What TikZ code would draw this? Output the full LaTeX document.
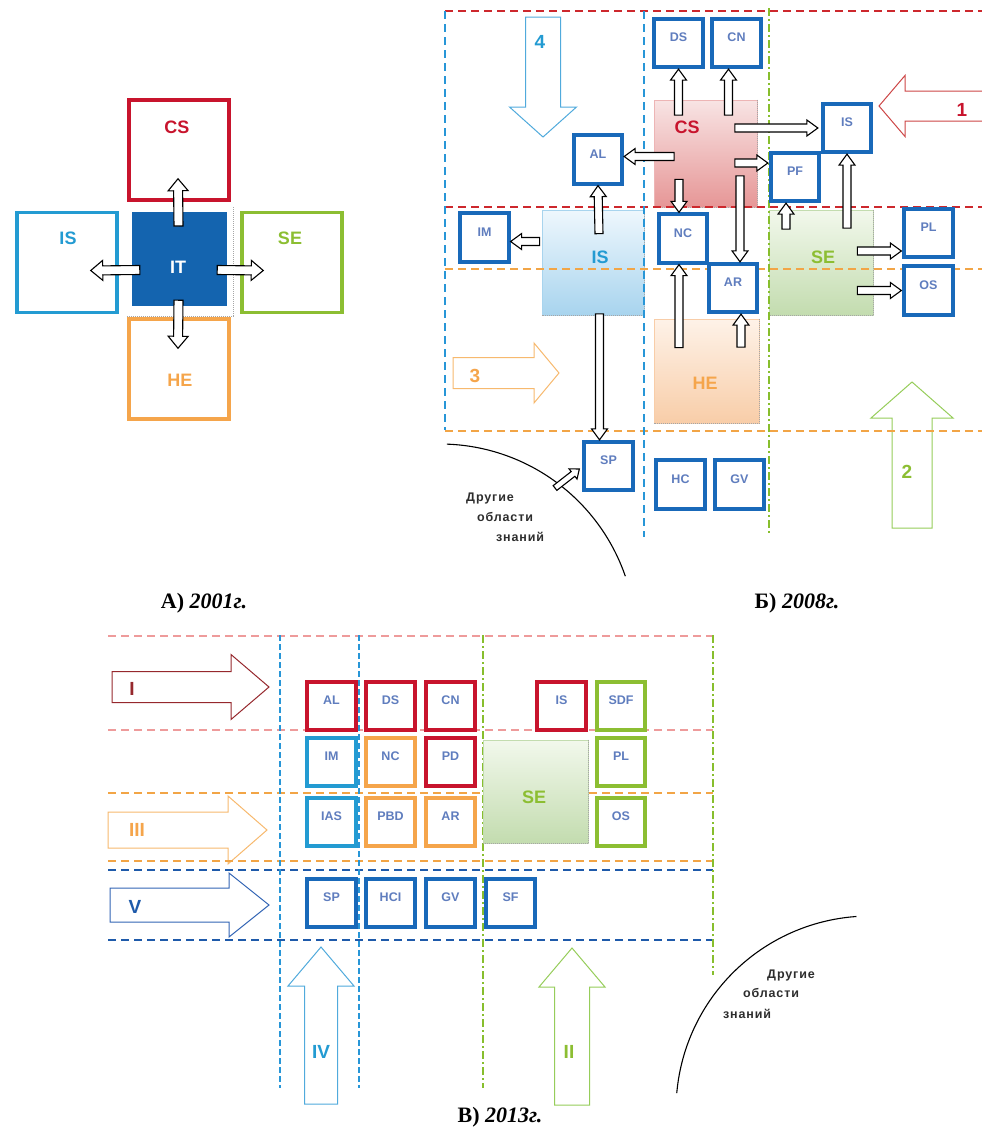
\documentclass[tikz,border=0pt]{standalone}
\usepackage{fontspec}
\setmainfont{Liberation Sans}
\newfontfamily\capfont{Liberation Serif}
\newfontfamily\othfont[LetterSpace=7]{Liberation Sans}
\usetikzlibrary{calc}

\definecolor{csred}{RGB}{200,20,45}
\definecolor{iscyan}{RGB}{35,155,210}
\definecolor{segreen}{RGB}{140,190,50}
\definecolor{heorange}{RGB}{245,165,75}
\definecolor{itblue}{RGB}{20,100,175}
\definecolor{boxblue}{RGB}{25,105,185}
\definecolor{labblue}{RGB}{95,125,190}
\definecolor{dashred}{RGB}{205,40,45}
\definecolor{dashpink}{RGB}{238,155,155}
\definecolor{dashorange}{RGB}{242,165,70}
\definecolor{dashcyan}{RGB}{40,150,215}
\definecolor{dashgreen}{RGB}{135,190,45}
\definecolor{dashblue}{RGB}{30,90,170}
\definecolor{arrred}{RGB}{205,70,70}
\definecolor{arrdark}{RGB}{150,40,45}
\definecolor{arrcyan}{RGB}{80,170,220}
\definecolor{arrgreen}{RGB}{150,205,90}
\definecolor{arrorange}{RGB}{247,185,110}
\definecolor{arrblue}{RGB}{50,100,180}
\definecolor{txtgray}{RGB}{45,45,45}
\definecolor{csTop}{RGB}{248,228,228}\definecolor{csBot}{RGB}{230,150,150}
\definecolor{isTop}{RGB}{238,247,253}\definecolor{isBot}{RGB}{168,212,238}
\definecolor{seTop}{RGB}{242,248,236}\definecolor{seBot}{RGB}{195,220,175}
\definecolor{heTop}{RGB}{254,242,232}\definecolor{heBot}{RGB}{248,205,168}

% block arrow: [style]{from}{to}{half shaft}{half head}{head length}
\newcommand{\blockarr}[6][]{%
  \path[#1] let \p1=(#2), \p2=(#3),
      \n1={atan2(\y2-\y1,\x2-\x1)}, \n2={veclen(\x2-\x1,\y2-\y1)} in
    [shift={(\p1)}, rotate=\n1]
    (0pt,-#4) -- ({\n2-#6},-#4) -- ({\n2-#6},-#5) -- ({\n2+0pt},0pt)
    -- ({\n2-#6},#5) -- ({\n2-#6},#4) -- (0pt,#4) -- cycle;}

\tikzset{
  cell/.style={draw=boxblue, line width=3.8pt, fill=white, minimum size=48.5pt,
    inner sep=0pt, text=labblue, font=\bfseries\fontsize{12.5}{12.5}\selectfont,
    text height=8.9pt, text depth=11pt},
  bigbox/.style={line width=3.5pt, minimum width=100pt, minimum height=100pt, inner sep=0pt},
  zone/.style={inner sep=0pt, line width=0.6pt},
  zdot/.style={densely dotted, line width=1pt, gray!70},
  zlab/.style={font=\bfseries\fontsize{18}{18}\selectfont, inner sep=0pt},
  dline/.style={line width=1.8pt, dash pattern=on 8pt off 5pt},
  smallarr/.style={draw=black, fill=white, line width=1.1pt},
  bigarr/.style={draw=#1, fill=white, line width=1pt},
  numlab/.style={font=\bfseries\fontsize{19}{19}\selectfont, inner sep=0pt},
  othertxt/.style={font=\othfont\bfseries\fontsize{12.5}{12.5}\selectfont, text=txtgray, inner sep=0pt},
  capt/.style={font=\capfont\bfseries\fontsize{22}{22}\selectfont, inner sep=0pt},
}

\begin{document}
\begin{tikzpicture}[x=1pt,y=-1pt]
\useasboundingbox (0,0) rectangle (982,1135);

% ===== А) 2001
\node[bigbox, draw=csred] (aCS) at (179,150) {};
\node[bigbox, draw=iscyan] (aIS) at (67,262.5) {};
\node[bigbox, draw=segreen] (aSE) at (292,262.5) {};
\node[bigbox, draw=heorange] (aHE) at (179,369) {};
\node[fill=itblue, minimum width=95pt, minimum height=94pt, inner sep=0pt] (aIT) at (179.5,259) {};
\draw[zdot] (233,207) -- (233,316) -- (127,316);
\node[zlab, text=csred] (aCSt) at (177,127) {CS};
\node[zlab, text=iscyan] (aISt) at (68,238) {IS};
\node[zlab, text=segreen] (aSEt) at (290,238) {SE};
\node[zlab, text=heorange] (aHEt) at (180,380) {HE};
\node[zlab, text=white] (aITt) at (178,267) {IT};
% стрелки
\blockarr[smallarr]{$(aIT.center)+(-1,-33)$}{$(aCS.south)+(-1,-23)$}{4.5pt}{10pt}{12pt}
\blockarr[smallarr]{$(aIT.west)+(8,11)$}{$(aIS.east)+(-28,8)$}{4.5pt}{10pt}{12pt}
\blockarr[smallarr]{$(aIT.east)+(-10,11)$}{$(aSE.west)+(23,8)$}{4.5pt}{10pt}{12pt}
\blockarr[smallarr]{$(aIT.south)+(-1,-6)$}{$(aHE.north)+(-1,31)$}{4.5pt}{10pt}{12pt}

% ===== Б) 2008
% большие стрелки
\blockarr[bigarr=arrcyan]{543,17}{543,137}{17.5pt}{33.5pt}{30pt}
\blockarr[bigarr=arrred]{995,106}{879,106}{15pt}{30.5pt}{26pt}
\blockarr[bigarr=arrorange]{453,373}{559,373}{15.5pt}{30pt}{25pt}
\blockarr[bigarr=arrgreen]{912,528}{912,382}{20pt}{41pt}{36pt}
\node[numlab, text=iscyan] (b4t) at (540,42) {4};
\node[numlab, text=csred] (b1t) at (962,110) {1};
\node[numlab, text=heorange] (b3t) at (475,376) {3};
\node[numlab, text=segreen] (b2t) at (907,472) {2};
% области
\node[zone, draw=csBot!70, top color=csTop, bottom color=csBot, minimum width=103pt, minimum height=107pt] (bCSz) at (705.5,153.5) {};
\node[zone, draw=isBot, top color=isTop, bottom color=isBot, minimum width=102pt, minimum height=105pt] (bISz) at (593,262.5) {};
\node[zone, draw=seBot, top color=seTop, bottom color=seBot, minimum width=104pt, minimum height=105pt] (bSEz) at (821,262.5) {};
\node[zone, draw=heBot, top color=heTop, bottom color=heBot, minimum width=105pt, minimum height=104pt] (bHEz) at (706.5,371) {};
\foreach \z in {bCSz,bISz,bSEz,bHEz}
  \draw[zdot] (\z.north east) -- (\z.south east) -- (\z.south west);
% пунктир
\draw[dline, dashred] (445,11) -- (982,11) (445,207) -- (982,207);
\draw[dline, dashorange] (445,269) -- (982,269) (445,431) -- (982,431);
\draw[dline, dashcyan] (445,11) -- (445,430) (644,11) -- (644,537);
\draw[dline, dashgreen, dash pattern=on 8pt off 3pt on 2pt off 3pt] (769,8) -- (769,533);
% дисциплины
\foreach \n/\x/\y in {DS/678.5/43, CN/736.5/43, AL/598/159.5, IS/847/128, PF/795/177,
    IM/484.5/237.5, NC/683/238.5, AR/733/288, PL/928.5/233, OS/928.5/290.5,
    SP/608.5/466, HC/680.5/484.5, GV/739.5/484.5}
  \node[cell] (b\n) at (\x,\y) {\n};
% связи
\blockarr[smallarr]{$(bDS.south)+(0,46)$}{bDS.south}{4pt}{8pt}{11pt}
\blockarr[smallarr]{$(bCN.south)+(-8,46)$}{$(bCN.south)+(-8,0)$}{4pt}{8pt}{11pt}
\blockarr[smallarr]{$(bAL.east)+(50,-3)$}{$(bAL.east)+(0,-3)$}{4pt}{8pt}{11pt}
\blockarr[smallarr]{$(bIS.west)+(-86,0)$}{$(bIS.west)+(-3,0)$}{4pt}{8pt}{11pt}
\blockarr[smallarr]{$(bPF.west)+(-34,-14)$}{$(bPF.west)+(-1,-14)$}{4pt}{8pt}{11pt}
\blockarr[smallarr]{$(bNC.north)+(-4,-33)$}{$(bNC.north)+(-4,0)$}{4pt}{8pt}{11pt}
\blockarr[smallarr]{$(bAR.north)+(7,-86)$}{$(bAR.north)+(7,0)$}{4pt}{8pt}{11pt}
\blockarr[smallarr]{$(bAL.south)+(1,48)$}{bAL.south}{4pt}{8pt}{11pt}
\blockarr[smallarr]{$(bIM.east)+(29,4)$}{$(bIM.east)+(0,4)$}{4pt}{8pt}{11pt}
\blockarr[smallarr]{$(bSP.north)+(-9,-126)$}{$(bSP.north)+(-9,0)$}{4pt}{8pt}{11pt}
\blockarr[smallarr]{$(bPF.south)+(-9,26)$}{$(bPF.south)+(-9,0)$}{4pt}{8pt}{11pt}
\blockarr[smallarr]{$(bIS.south)+(0,74)$}{bIS.south}{4pt}{8pt}{11pt}
\blockarr[smallarr]{$(bPL.west)+(-45,18)$}{$(bPL.west)+(-1,18)$}{4pt}{8pt}{11pt}
\blockarr[smallarr]{$(bOS.west)+(-45,0)$}{$(bOS.west)+(-1,0)$}{4pt}{8pt}{11pt}
\blockarr[smallarr]{$(bNC.south)+(-4,83)$}{$(bNC.south)+(-4,0)$}{4pt}{8pt}{11pt}
\blockarr[smallarr]{$(bAR.south)+(8,33)$}{$(bAR.south)+(8,0)$}{4pt}{8pt}{11pt}
\node[zlab, text=csred] (bCSt) at (687,127) {CS};
\node[zlab, text=iscyan] (bISt) at (600,257) {IS};
\node[zlab, text=segreen] (bSEt) at (823,257) {SE};
\node[zlab, text=heorange] (bHEt) at (705,383) {HE};
% другие области
\draw[line width=1.1pt] plot[smooth, domain=88:19, samples=40] ({440+196*cos(\x)},{640-196*sin(\x)});
\coordinate (bOth) at (555,488);
\blockarr[smallarr]{bOth}{$(bSP.west)+(-3,3)$}{3pt}{6.5pt}{8pt}
\node[othertxt] (bO1) at (490,498) {Другие};
\node[othertxt] (bO2) at (505,517) {области};
\node[othertxt] (bO3) at (520,537) {знаний};

% ===== В) 2013
\blockarr[bigarr=arrdark]{112,687}{269,687}{15.5pt}{32.5pt}{38pt}
\blockarr[bigarr=arrorange]{108,830}{267,830}{18pt}{34pt}{39pt}
\blockarr[bigarr=arrblue]{110,905}{269,905}{17pt}{32pt}{40pt}
\blockarr[bigarr=arrcyan]{321,1104}{321,947}{16.5pt}{33pt}{39pt}
\blockarr[bigarr=arrgreen]{572,1105}{572,948}{17.5pt}{33pt}{39pt}
\node[numlab, text=arrdark] (cIt) at (132,689) {I};
\node[numlab, text=heorange] (cIIIt) at (137,830) {III};
\node[numlab, text=dashblue] (cVt) at (135,907) {V};
\node[numlab, text=iscyan] (cIVt) at (321,1052) {IV};
\node[numlab, text=segreen] (cIIt) at (569,1052) {II};
% пунктир
\draw[dline, dashpink] (108,636) -- (713,636) (108,730) -- (713,730);
\draw[dline, dashorange] (108,793) -- (713,793) (108,861) -- (713,861);
\draw[dline, dashblue] (108,870) -- (713,870) (108,940) -- (713,940);
\draw[dline, dashcyan, dash pattern=on 6pt off 3pt] (280,635) -- (280,1088) (359,635) -- (359,1088);
\draw[dline, dashgreen, dash pattern=on 8pt off 3pt on 2pt off 3pt] (483,635) -- (483,1088) (713,635) -- (713,975);
\node[zone, draw=seBot, top color=seTop, bottom color=seBot, minimum width=105pt, minimum height=103pt] (cSEz) at (535.5,791.5) {};
\draw[zdot] (cSEz.north east) -- (cSEz.south east) -- (cSEz.south west);
\node[zlab, text=segreen] (cSEt) at (534,797) {SE};
% дисциплины
\foreach \n/\x/\y/\c in {AL/331.5/706/csred, DS/390.5/706/csred, CN/450.5/706/csred,
    IS/561.5/706/csred, SDF/621/706/segreen, IM/331.5/762/iscyan, NC/390.5/762/heorange,
    PD/450.5/762/csred, PL/621/762/segreen, IAS/331.5/822/iscyan, PBD/390.5/822/heorange,
    AR/450.5/822/heorange, OS/621/822/segreen, SP/331.5/903/boxblue,
    HCI/390.5/903/boxblue, GV/450.5/903/boxblue, SF/510.5/903/boxblue}
  \node[cell, draw=\c] (c\n) at (\x,\y) {\n};
% другие области
\draw[line width=1.1pt] plot[smooth, domain=94:175, samples=40] ({870+194*cos(\x)},{1110-194*sin(\x)});
\node[othertxt] (cO1) at (791,975) {Другие};
\node[othertxt] (cO2) at (771,993) {области};
\node[othertxt] (cO3) at (747,1014) {знаний};

% подписи
\node[capt] (capA) at (204,603) {А) \textit{2001г.}};
\node[capt] (capB) at (797,603) {Б) \textit{2008г.}};
\node[capt] (capC) at (500,1117) {В) \textit{2013г.}};
\end{tikzpicture}
\end{document}
